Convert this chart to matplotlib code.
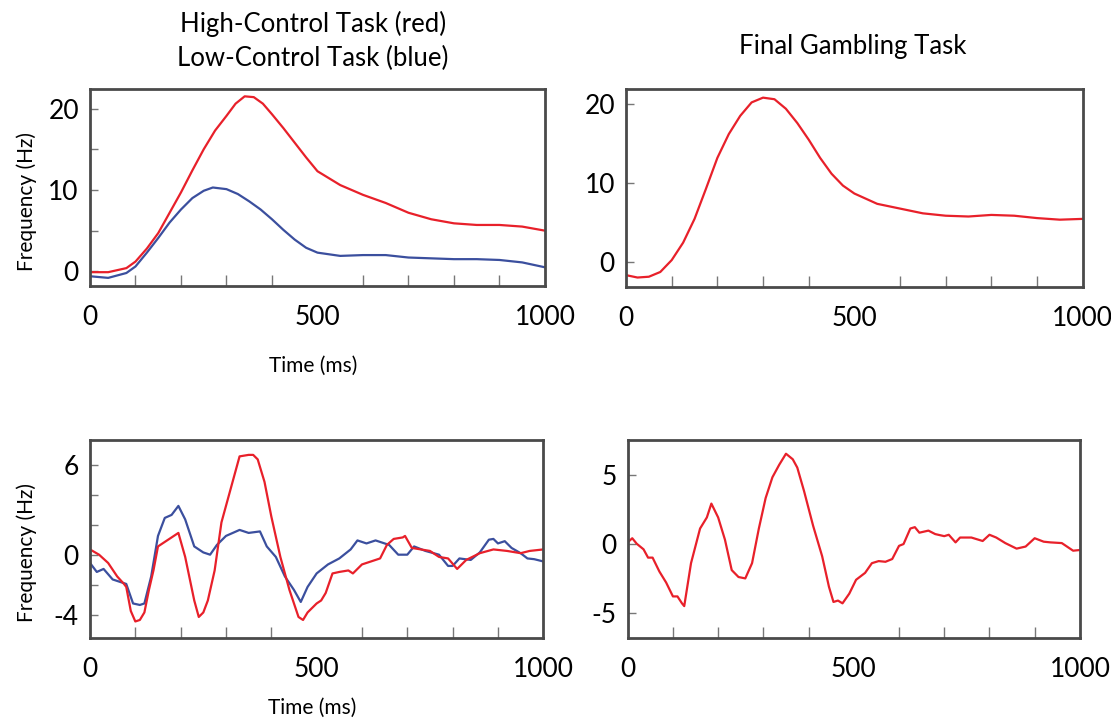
import matplotlib

matplotlib.use("Agg")
import matplotlib.pyplot as plt

# --- data ------------------------------------------------------------------
# top-left: high-control (red) / low-control (blue), smooth firing rate
tl_red_t = [0, 40, 80, 100, 125, 150, 175, 200, 225, 250, 275, 300, 320, 340, 360, 380,
            400, 425, 450, 475, 500, 550, 600, 650, 700, 750, 800, 850, 900, 950, 1000]
tl_red_y = [-0.1, -0.1, 0.4, 1.2, 2.8, 4.7, 7.2, 9.7, 12.4, 15.0, 17.3, 19.1, 20.6, 21.5, 21.4, 20.6,
            19.3, 17.6, 15.8, 14.0, 12.3, 10.6, 9.4, 8.4, 7.2, 6.4, 5.9, 5.7, 5.7, 5.5, 5.0]
tl_blue_t = [0, 40, 80, 100, 125, 150, 175, 200, 225, 250, 270, 300, 325, 350, 375, 400, 425,
             450, 475, 500, 550, 600, 650, 700, 750, 800, 850, 900, 950, 1000]
tl_blue_y = [-0.6, -0.8, -0.2, 0.6, 2.3, 4.1, 6.0, 7.6, 9.0, 9.9, 10.3, 10.1, 9.5, 8.6, 7.6, 6.4, 5.1,
             3.9, 2.9, 2.3, 1.9, 2.0, 2.0, 1.7, 1.6, 1.5, 1.5, 1.4, 1.1, 0.5]

# top-right: final gambling task
tr_t = [0, 25, 50, 75, 100, 125, 150, 175, 200, 225, 250, 275, 300, 325, 350, 375, 400, 425,
        450, 475, 500, 550, 600, 650, 700, 750, 800, 850, 900, 950, 1000]
tr_y = [-1.6, -1.9, -1.8, -1.2, 0.3, 2.5, 5.5, 9.3, 13.2, 16.2, 18.5, 20.2, 20.8, 20.6, 19.4, 17.6,
        15.5, 13.2, 11.2, 9.7, 8.7, 7.4, 6.8, 6.2, 5.9, 5.8, 6.0, 5.9, 5.6, 5.4, 5.5]

# bottom-left: difference waves
bl_red_t = [0, 20, 40, 60, 75, 80, 90, 100, 110, 120, 130, 140, 150, 160, 180, 195, 210, 230,
            240, 250, 260, 275, 290, 310, 330, 350, 360, 370, 385, 400, 420, 440, 460, 470, 480,
            500, 510, 520, 535, 550, 570, 580, 600, 620, 640, 655, 670, 690, 695, 710, 730, 750,
            770, 790, 810, 830, 860, 890, 920, 950, 970, 1000]
bl_red_y = [0.4, 0.05, -0.5, -1.4, -1.9, -2.1, -3.7, -4.4, -4.3, -3.8, -2.3, -1.0, 0.6, 0.8, 1.2,
            1.5, -0.1, -3.0, -4.1, -3.8, -3.0, -1.0, 2.2, 4.4, 6.6, 6.7, 6.7, 6.4, 4.9, 2.6, -0.1,
            -2.3, -4.1, -4.3, -3.8, -3.2, -3.0, -2.5, -1.2, -1.1, -1.0, -1.2, -0.6, -0.4, -0.2, 0.7,
            1.1, 1.2, 1.3, 0.5, 0.4, 0.3, -0.1, -0.2, -0.9, -0.3, 0.15, 0.4, 0.3, 0.15, 0.3, 0.4]
bl_blue_t = [0, 15, 30, 50, 70, 80, 95, 110, 120, 135, 150, 165, 180, 195, 210, 230, 250, 265,
             280, 300, 330, 350, 375, 390, 410, 430, 450, 465, 480, 500, 525, 550, 575, 590, 610,
             630, 660, 680, 700, 715, 740, 770, 790, 800, 815, 840, 860, 880, 890, 900, 915, 930,
             950, 965, 980, 1000]
bl_blue_y = [-0.5, -1.1, -0.9, -1.6, -1.8, -1.9, -3.2, -3.3, -3.2, -1.4, 1.3, 2.5, 2.7, 3.3, 2.4,
             0.6, 0.2, 0.05, 0.7, 1.3, 1.7, 1.5, 1.6, 0.6, -0.1, -1.4, -2.3, -3.1, -2.1, -1.2,
             -0.6, -0.2, 0.4, 1.0, 0.8, 1.0, 0.7, 0.05, 0.05, 0.6, 0.3, 0.05, -0.7, -0.7, -0.2,
             -0.3, 0.2, 1.05, 1.1, 0.8, 0.95, 0.5, 0.15, -0.2, -0.25, -0.4]

# bottom-right: final gambling task difference wave
br_t = [0, 10, 20, 35, 45, 55, 70, 85, 100, 110, 120, 125, 140, 160, 175, 185, 200, 215, 230,
        245, 260, 275, 290, 305, 320, 335, 350, 365, 375, 390, 410, 430, 445, 455, 465, 475,
        490, 505, 525, 540, 555, 570, 585, 600, 610, 625, 635, 645, 665, 680, 700, 710, 725,
        735, 760, 785, 800, 815, 835, 860, 880, 900, 920, 935, 960, 985, 1000]
br_y = [0.1, 0.4, 0.0, -0.4, -1.0, -1.0, -2.0, -2.8, -3.8, -3.8, -4.3, -4.5, -1.4, 1.1, 1.9,
        2.9, 1.9, 0.3, -1.9, -2.4, -2.5, -1.4, 1.1, 3.3, 4.8, 5.7, 6.5, 6.1, 5.5, 3.8, 1.3, -0.9,
        -3.1, -4.2, -4.1, -4.3, -3.6, -2.6, -2.1, -1.4, -1.25, -1.3, -1.1, -0.15, -0.02, 1.1,
        1.2, 0.8, 0.95, 0.7, 0.55, 0.65, 0.1, 0.45, 0.45, 0.2, 0.65, 0.45, 0.05, -0.35, -0.2,
        0.4, 0.15, 0.1, 0.05, -0.5, -0.45]

RED = "#e8202a"
BLUE = "#3b4f9e"
SPINE = "#4a4a4a"
TICK_FONT = ["Lato", "DejaVu Sans"]
TEXT_FONT = ["Lato", "DejaVu Sans"]


def style_axes(ax, ylim, yticks, ylabels, yminor):
    ax.set_xlim(0, 1000)
    ax.set_ylim(*ylim)
    for s in ax.spines.values():
        s.set_color(SPINE)
        s.set_linewidth(2.0)
    ax.set_xticks([0, 500, 1000])
    ax.set_xticklabels(["0", "500", "1000"], family=TICK_FONT, fontsize=19)
    ax.set_xticks(range(100, 1000, 100), minor=True)
    ax.set_yticks(yticks)
    ax.set_yticklabels(ylabels, family=TICK_FONT, fontsize=19)
    ax.set_yticks(yminor, minor=True)
    ax.tick_params(axis="x", which="both", direction="in", length=8, width=1,
                   color="#777777", pad=14)
    ax.tick_params(axis="x", which="major", length=0)
    ax.tick_params(axis="y", which="both", direction="in", length=6, width=1,
                   color="#777777", pad=8)


fig = plt.figure(figsize=(11.11, 7.23), dpi=100)
ax_tl = fig.add_axes([0.081, 0.6044, 0.4095, 0.2725])
ax_tr = fig.add_axes([0.5635, 0.603, 0.411, 0.274])
ax_bl = fig.add_axes([0.081, 0.1176, 0.408, 0.274])
ax_br = fig.add_axes([0.565, 0.1176, 0.407, 0.274])

ax_tl.plot(tl_red_t, tl_red_y, color=RED, lw=1.6)
ax_tl.plot(tl_blue_t, tl_blue_y, color=BLUE, lw=1.6)
style_axes(ax_tl, (-1.8, 22.4), [0, 10, 20], ["0", "10", "20"], [5, 15])

ax_tr.plot(tr_t, tr_y, color=RED, lw=1.6)
style_axes(ax_tr, (-3.1, 21.9), [0, 10, 20], ["0", "10", "20"], [])

ax_bl.plot(bl_blue_t, bl_blue_y, color=BLUE, lw=1.6)
ax_bl.plot(bl_red_t, bl_red_y, color=RED, lw=1.6)
style_axes(ax_bl, (-5.5, 7.7), [-4, 0, 6], ["-4", "0", "6"], [-2, 2, 4])

ax_br.plot(br_t, br_y, color=RED, lw=1.6)
style_axes(ax_br, (-6.8, 7.5), [-5, 0, 5], ["-5", "0", "5"], [])

for ax, ly in ((ax_tl, -0.355), (ax_bl, -0.30)):
    ax.set_ylabel("Frequency (Hz)", family=TEXT_FONT, fontsize=15)
    ax.yaxis.set_label_coords(-0.117, 0.43)
    ax.set_xlabel("Time (ms)", family=TEXT_FONT, fontsize=15)
    ax.xaxis.set_label_coords(0.49, ly)

fig.text(0.2817, 0.967, "High-Control Task (red)", ha="center", va="center",
         family=TEXT_FONT, fontsize=18.5)
fig.text(0.2817, 0.919, "Low-Control Task (blue)", ha="center", va="center",
         family=TEXT_FONT, fontsize=18.5)
fig.text(0.768, 0.936, "Final Gambling Task", ha="center", va="center",
         family=TEXT_FONT, fontsize=18.5)

fig.savefig("out.png", dpi=100)
